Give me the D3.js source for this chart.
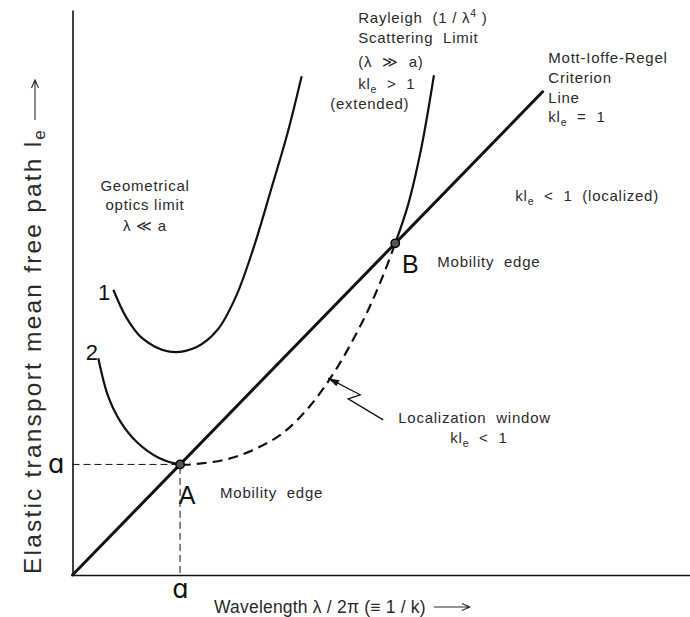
<!DOCTYPE html>
<html><head><meta charset="utf-8">
<script src="https://cdn.jsdelivr.net/npm/d3@7"></script>
<style>body{margin:0;background:#fff}svg{display:block}</style>
</head><body><svg id="c" width="690" height="617"></svg>
<script>
// ---------- data (units of the scatterer size a) ----------
const xMax = 5.74, yMax = 5.11;
const tickA = [1];
const mirLine = [[0, 0], [4.37, 4.37]];               // kl_e = 1  (l_e = λ/2π)
const curve1 = [[0.38,2.58],[0.5,2.33],[0.65,2.14],[0.9,2.02],[1.15,2.06],[1.35,2.22],
                [1.52,2.52],[1.68,2.95],[1.85,3.5],[2.0,4.0],[2.13,4.51]];
const curve2 = [[0.24,1.96],[0.33,1.62],[0.45,1.38],[0.6,1.2],[0.8,1.06],[1,1],
                [1.2,1.01],[1.45,1.05],[1.7,1.14],[1.95,1.28],[2.2,1.52],[2.45,1.86],
                [2.7,2.3],[2.85,2.62],[3,3],[3.12,3.35],[3.24,3.85],[3.36,4.52]];
const windowRange = [1, 3];                              // localization window (dashed)
const edges = [{name:"A", x:1, y:1, lx:1.065, ly:0.643}, {name:"B", x:3, y:3, lx:3.14, ly:2.733}];
const curveNames = [{t:"1", x:0.293, y:2.489}, {t:"2", x:0.181, y:1.946}];
const notes = [
  {anchor:"middle", lines:[{t:"Geometrical", x:0.674, y:3.475},{t:"optics limit", x:0.674, y:3.303},{t:"λ ≪ a", x:0.674, y:3.113}]},
  {anchor:"start", lines:[{t:"Rayleigh  (1 / λ^4 )", x:2.656, y:4.995},{t:"Scattering  Limit", x:2.656, y:4.814},
     {t:"(λ  ≫  a)", x:2.656, y:4.597},{t:"kl_e  >  1", x:2.656, y:4.398},{t:"(extended)", x:2.395, y:4.217}]},
  {anchor:"start", lines:[{t:"Mott-Ioffe-Regel", x:4.423, y:4.633},{t:"Criterion", x:4.423, y:4.452},
     {t:"Line", x:4.423, y:4.271},{t:"kl_e  =  1", x:4.423, y:4.100}]},
  {anchor:"start", lines:[{t:"kl_e  <  1  (localized)", x:4.116, y:3.385}]},
  {anchor:"start", lines:[{t:"Mobility  edge", x:3.391, y:2.787}]},
  {anchor:"start", lines:[{t:"Mobility  edge", x:1.372, y:0.697}]},
  {anchor:"start", lines:[{t:"Localization  window", x:3.028, y:1.376},{t:"kl_e  <  1", x:3.512, y:1.195}]}
];
const pointer = {tip:[2.377,1.78], path:[[2.674,1.63],[2.563,1.593],[2.888,1.403]]};
const xTitle = "Wavelength λ / 2π (≡ 1 / k)";
const yTitle = "Elastic transport mean free path l_e";

// ---------- drawing ----------
const svg = d3.select("#c");
const x = d3.scaleLinear().domain([0, xMax]).range([72.5, 690]);
const y = d3.scaleLinear().domain([0, yMax]).range([575, 10]);
const ink = "#111", txt = "#2a2a2a";
const FONT = "'Liberation Sans', Arial, Helvetica, sans-serif";

function rich(sel, str) {
  const re = /([_^])(.)/g; let last = 0, m, shift = 0;
  const add = (s, dy, small) => {
    const t = sel.append("tspan").text(s);
    if (dy) t.attr("dy", dy);
    if (small) t.attr("font-size", "70%");
  };
  while ((m = re.exec(str))) {
    if (m.index > last) { add(str.slice(last, m.index), shift ? -shift : null); shift = 0; }
    const d = m[1] === "_" ? 4 : -6;
    add(m[2], d, true); shift = d; last = re.lastIndex;
  }
  if (last < str.length) add(str.slice(last), shift ? -shift : null);
}

// axes
const xAxis = d3.axisBottom(x).tickValues(tickA).tickFormat(() => "ɑ").tickSize(0).tickSizeOuter(0).tickPadding(5);
const yAxis = d3.axisLeft(y).tickValues(tickA).tickFormat(() => "ɑ").tickSize(0).tickSizeOuter(0).tickPadding(8);
const gx = svg.append("g").attr("transform", `translate(0,${y(0)})`).call(xAxis);
const gy = svg.append("g").attr("transform", `translate(${x(0)},0)`).call(yAxis);
[gx, gy].forEach(g => {
  g.select(".domain").attr("stroke", ink).attr("stroke-width", 1.6);
  g.selectAll("text").attr("font-family", "'DejaVu Sans', sans-serif").attr("font-size", 26).attr("fill", ink);
});
gy.selectAll("text").attr("dy", "0.3em");

// guide lines to a
svg.append("path").attr("fill", "none").attr("stroke", ink).attr("stroke-width", 1)
  .attr("stroke-dasharray", "7,4")
  .attr("d", d3.line()([[x(0), y(1)], [x(1), y(1)], [x(1), y(0)]]));

// Mott-Ioffe-Regel line
const line = d3.line().x(d => x(d[0])).y(d => y(d[1]));
svg.append("path").attr("d", line(mirLine)).attr("fill", "none").attr("stroke", ink)
  .attr("stroke-width", 3).attr("stroke-linecap", "round");

// curve 1
const smooth = d3.line().x(d => x(d[0])).y(d => y(d[1])).curve(d3.curveCatmullRom.alpha(0.5));
svg.append("path").attr("d", smooth(curve1)).attr("fill", "none").attr("stroke", ink).attr("stroke-width", 2.2);

// curve 2 : solid outside the localization window, dashed inside
const defs = svg.append("defs");
defs.append("clipPath").attr("id", "outL").append("rect")
  .attr("x", 0).attr("y", 0).attr("width", x(windowRange[0])).attr("height", 617);
defs.append("clipPath").attr("id", "outR").append("rect")
  .attr("x", x(windowRange[1])).attr("y", 0).attr("width", 690 - x(windowRange[1])).attr("height", 617);
defs.append("clipPath").attr("id", "inW").append("rect")
  .attr("x", x(windowRange[0])).attr("y", 0).attr("width", x(windowRange[1]) - x(windowRange[0])).attr("height", 617);
["outL", "outR"].forEach(id => svg.append("path").attr("d", smooth(curve2)).attr("fill", "none")
  .attr("stroke", ink).attr("stroke-width", 2.2).attr("clip-path", `url(#${id})`));
svg.append("path").attr("d", smooth(curve2)).attr("fill", "none").attr("stroke", ink)
  .attr("stroke-width", 2.2).attr("stroke-dasharray", "10,6").attr("clip-path", "url(#inW)");

// mobility edge dots + letters
svg.selectAll("circle.edge").data(edges).join("circle").attr("class", "edge")
  .attr("cx", d => x(d.x)).attr("cy", d => y(d.y)).attr("r", 4.2)
  .attr("fill", "#555").attr("stroke", "#000").attr("stroke-width", 1.4);
svg.selectAll("text.edge").data(edges).join("text").attr("class", "edge")
  .attr("x", d => x(d.lx)).attr("y", d => y(d.ly)).attr("text-anchor", "middle")
  .attr("font-family", FONT).attr("font-size", 25).attr("fill", ink).text(d => d.name);

// curve numbers
svg.selectAll("text.cn").data(curveNames).join("text").attr("class", "cn")
  .attr("x", d => x(d.x)).attr("y", d => y(d.y)).attr("text-anchor", "middle")
  .attr("font-family", FONT).attr("font-size", 22).attr("fill", ink).text(d => d.t);

// notes
notes.forEach(n => n.lines.forEach(l => {
  const t = svg.append("text").attr("x", x(l.x)).attr("y", y(l.y)).attr("text-anchor", n.anchor)
    .attr("font-family", FONT).attr("font-size", 15).attr("letter-spacing", 0.75)
    .attr("fill", txt).style("white-space", "pre");
  rich(t, l.t);
}));

// pointer arrow (zig-zag) to the localization window
const tip = [x(pointer.tip[0]), y(pointer.tip[1])];
const pp = pointer.path.map(p => [x(p[0]), y(p[1])]);
svg.append("path").attr("d", d3.line()([tip, ...pp])).attr("fill", "none").attr("stroke", ink).attr("stroke-width", 1.3);
{
  const ang = Math.atan2(pp[0][1] - tip[1], pp[0][0] - tip[0]);
  const L = 11, W = 3.5;
  const bx = tip[0] + L * Math.cos(ang), by = tip[1] + L * Math.sin(ang);
  const nx = -Math.sin(ang) * W, ny = Math.cos(ang) * W;
  svg.append("path").attr("d", `M${tip[0]},${tip[1]}L${bx + nx},${by + ny}L${bx - nx},${by - ny}Z`).attr("fill", ink);
}

// axis titles with long arrows
function arrowAfter(g, len) {
  const w = g.select("text").node().getComputedTextLength();
  const x0 = w + 8, x1 = w + 8 + len, yy = -6;
  g.append("path").attr("d", `M${x0},${yy}H${x1}M${x1 - 8},${yy - 3.5}L${x1},${yy}L${x1 - 8},${yy + 3.5}`)
    .attr("fill", "none").attr("stroke", txt).attr("stroke-width", 1.1);
}
const gxT = svg.append("g").attr("transform", "translate(214,613)");
const tx = gxT.append("text").attr("font-family", FONT).attr("font-size", 17.5).attr("letter-spacing", 0.2)
  .attr("fill", txt).style("white-space", "pre");
rich(tx, xTitle);
arrowAfter(gxT, 36);

const gyT = svg.append("g").attr("transform", "translate(41,574) rotate(-90)");
const ty = gyT.append("text").attr("font-family", FONT).attr("font-size", 24.5).attr("letter-spacing", 2.2)
  .attr("fill", txt).style("white-space", "pre");
rich(ty, yTitle);
arrowAfter(gyT, 40);
</script></body></html>
